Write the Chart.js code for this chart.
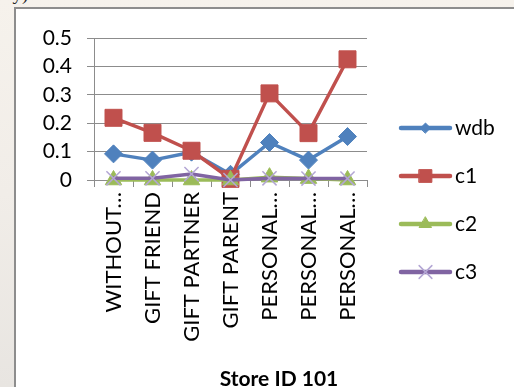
<!DOCTYPE html>
<html>
<head>
<meta charset="utf-8">
<script src="https://cdn.jsdelivr.net/npm/chart.js@4/dist/chart.umd.min.js"></script>
<style>
  html, body { margin: 0; padding: 0; width: 514px; height: 387px; overflow: hidden;
    background: linear-gradient(180deg, #f6f2ec 0%, #f1ede8 50%, #e8e5e1 100%); }
  .note { position: absolute; left: 4px; top: -17px; font: 19px "Liberation Serif", serif; color: #222; }
  #frame { position: absolute; left: 14px; top: 7px; width: 560px; height: 420px;
    border: 2px solid #8d8d8d; background: #ffffff; }
  #chart { position: absolute; left: 0; top: 0; }
</style>
</head>
<body>
<div class="note">ay).</div>
<div id="frame"></div>
<canvas id="chart" width="514" height="387"></canvas>
<script>
// Purchase-type categories along the x axis
const categories = ["WITHOUT…", "GIFT FRIEND", "GIFT PARTNER", "GIFT PARENT", "PERSONAL…", "PERSONAL…", "PERSONAL…"];

// Series values per category
const wdb = [0.092, 0.07, 0.098, 0.02, 0.132, 0.07, 0.153];
const c1  = [0.219, 0.166, 0.103, 0.004, 0.305, 0.165, 0.425];
const c2  = [0.0, 0.0, 0.0, 0.0, 0.01, 0.005, 0.0];
const c3  = [0.006, 0.006, 0.021, 0.0, 0.006, 0.005, 0.005];

// Value-axis tick labels
const yTickLabels = ["0", "0.1", "0.2", "0.3", "0.4", "0.5"];

const seriesNames = ["wdb", "c1", "c2", "c3"];
const FONT = "Lato";

// Excel-style legend: a line segment with its marker, then the series name
const sideLegend = {
  id: "sideLegend",
  afterDraw(chart) {
    const ctx = chart.ctx;
    const area = chart.chartArea;
    const x0 = area.right + 34, x1 = area.right + 83;
    const mid = (x0 + x1) / 2;
    const sizes = [5, 9, 7, 9];
    ctx.save();
    chart.data.datasets.forEach((ds, i) => {
      const y = 128 + i * 48;
      ctx.strokeStyle = ds.borderColor;
      ctx.lineWidth = 4.5;
      ctx.lineCap = "round";
      ctx.beginPath();
      ctx.moveTo(x0, y);
      ctx.lineTo(x1, y);
      ctx.stroke();
      ctx.fillStyle = ds.pointBackgroundColor;
      ctx.strokeStyle = ds.pointBorderColor;
      ctx.lineWidth = ds.pointBorderWidth;
      Chart.helpers.drawPoint(ctx, { pointStyle: ds.pointStyle, radius: sizes[i], rotation: 0, borderWidth: ds.pointBorderWidth }, mid, y);
      ctx.fillStyle = "#000";
      ctx.font = "21px " + FONT;
      ctx.textAlign = "left";
      ctx.textBaseline = "middle";
      ctx.fillText(ds.label, x1 + 5, y);
    });
    // chart title under the category labels
    ctx.font = "bold 21px " + FONT;
    ctx.textAlign = "center";
    ctx.textBaseline = "middle";
    ctx.fillText("Store ID 101", 279, 379);
    ctx.restore();
  }
};

const colors = [
  { line: "#4f81bd", fill: "#4f81bd", border: "#4f81bd", style: "rectRot", r: 9, bw: 1 },
  { line: "#c0504d", fill: "#c0504d", border: "#c0504d", style: "rect", r: 12, bw: 1 },
  { line: "#9bbb59", fill: "#9bbb59", border: "#9bbb59", style: "triangle", r: 9.5, bw: 1 },
  { line: "#8064a2", fill: "#b3a6d4", border: "#b3a6d4", style: "crossRot", r: 10, bw: 1.5 }
];

const values = [wdb, c1, c2, c3];
const datasets = values.map((data, i) => ({
  label: seriesNames[i],
  data: data,
  borderColor: colors[i].line,
  borderWidth: 3.5,
  borderJoinStyle: "round",
  borderCapStyle: "round",
  pointStyle: colors[i].style,
  pointRadius: colors[i].r,
  pointBackgroundColor: colors[i].fill,
  pointBorderColor: colors[i].border,
  pointBorderWidth: colors[i].bw,
  tension: 0,
  clip: false,
  order: values.length - 1 - i
}));

new Chart(document.getElementById("chart"), {
  type: "line",
  data: { labels: categories, datasets: datasets },
  plugins: [sideLegend],
  options: {
    responsive: false,
    animation: false,
    layout: { padding: { left: 0, top: 38, right: 147, bottom: 20 } },
    plugins: { legend: { display: false }, title: { display: false }, tooltip: { enabled: false } },
    scales: {
      x: {
        type: "category",
        offset: true,
        grid: { offset: true, drawOnChartArea: false, drawTicks: true, tickLength: 7, color: "#8c8c8c", lineWidth: 1 },
        border: { display: true, color: "#8c8c8c" },
        ticks: { autoSkip: false, minRotation: 90, maxRotation: 90, padding: 5, color: "#000",
                 font: { family: FONT, size: 22 } },
        afterFit(scale) { scale.height = 187; }
      },
      y: {
        min: 0,
        max: 0.5,
        grid: { color: "#8c8c8c", lineWidth: 1, tickLength: 7 },
        border: { display: true, color: "#8c8c8c" },
        ticks: { stepSize: 0.1, padding: 15, color: "#000", font: { family: FONT, size: 21 },
                 callback: (v, i) => yTickLabels[i] },
        afterFit(scale) { scale.width = 94; }
      }
    }
  }
});
</script>
</body>
</html>
